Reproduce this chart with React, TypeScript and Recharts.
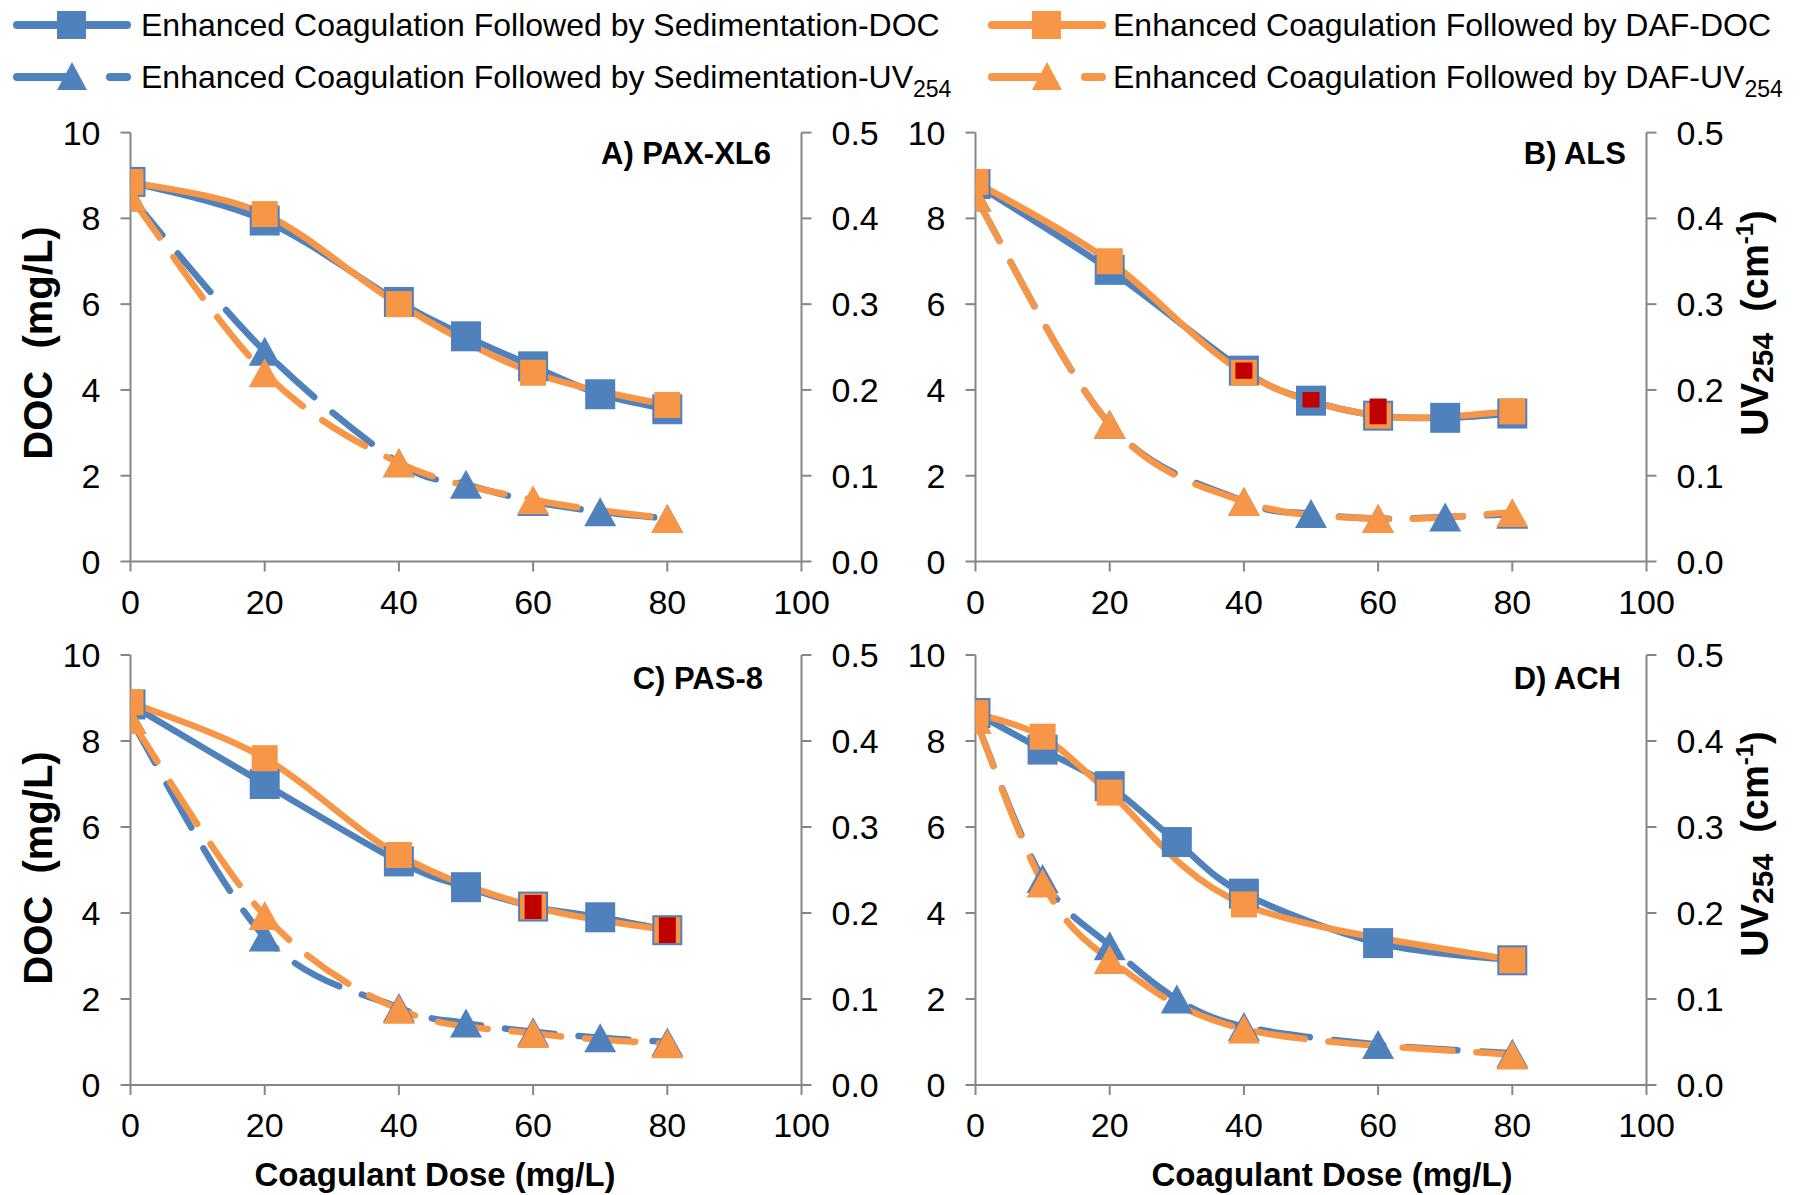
import React from 'react';
import { LineChart, Line, XAxis, YAxis } from 'recharts';

const FONT = '"Liberation Sans", Arial, sans-serif';
const BLUE = '#4F81BD';
const ORANGE = '#F79646';
const RED = '#C00000';
const AXIS = '#868686';

// ---------- Axis ticks ----------
const doseTicks = [0, 20, 40, 60, 80, 100];
const docTicks = [0, 2, 4, 6, 8, 10];
const uvTicks = [0, 0.1, 0.2, 0.3, 0.4, 0.5];

// ---------- Legend labels ----------
const legendSedDoc = 'Enhanced Coagulation Followed by Sedimentation-DOC';
const legendDafDoc = 'Enhanced Coagulation Followed by DAF-DOC';
const legendSedUvPrefix = 'Enhanced Coagulation Followed by Sedimentation-UV';
const legendDafUvPrefix = 'Enhanced Coagulation Followed by DAF-UV';
const panelTitles = ['A) PAX-XL6', 'B) ALS', 'C) PAS-8', 'D) ACH'];

// ---------- Panel A: PAX-XL6 ----------
const doseA_sed = [0, 20, 40, 50, 60, 70, 80];
const docA_sed = [8.85, 7.95, 6.05, 5.25, 4.55, 3.9, 3.55];
const uvA_sed = [0.425, 0.245, 0.115, 0.09, 0.07, 0.058, 0.05];
const doseA_daf = [0, 20, 40, 60, 80];
const docA_daf = [8.85, 8.1, 6.0, 4.4, 3.65];
const uvA_daf = [0.425, 0.22, 0.115, 0.072, 0.05];

// ---------- Panel B: ALS ----------
const doseB_sed = [0, 20, 40, 50, 60, 70, 80];
const docB_sed = [8.8, 6.8, 4.45, 3.75, 3.4, 3.35, 3.45];
const uvB_sed = [0.425, 0.16, 0.07, 0.056, 0.05, 0.052, 0.055];
const doseB_daf = [0, 20, 40, 60, 80];
const docB_daf = [8.85, 7.0, 4.4, 3.4, 3.5];
const uvB_daf = [0.425, 0.16, 0.07, 0.05, 0.057];
const redDoseB = [40, 50, 60];
const redValB = [4.45, 3.77, 3.5];
const redErrB = [0.19, 0.18, 0.3];

// ---------- Panel C: PAS-8 ----------
const doseC_sed = [0, 20, 40, 50, 60, 70, 80];
const docC_sed = [8.85, 7.0, 5.2, 4.6, 4.15, 3.9, 3.6];
const uvC_sed = [0.425, 0.172, 0.09, 0.072, 0.062, 0.055, 0.05];
const doseC_daf = [0, 20, 40, 60, 80];
const docC_daf = [8.9, 7.6, 5.35, 4.15, 3.6];
const uvC_daf = [0.425, 0.197, 0.088, 0.06, 0.048];
const redDoseC = [60, 80];
const redValC = [4.14, 3.6];
const redErrC = [0.28, 0.3];

// ---------- Panel D: ACH ----------
const doseD_sed = [0, 10, 20, 30, 40, 60, 80];
const docD_sed = [8.65, 7.8, 6.95, 5.65, 4.45, 3.3, 2.9];
const uvD_sed = [0.425, 0.24, 0.162, 0.1, 0.068, 0.047, 0.037];
const doseD_daf = [0, 10, 20, 40, 80];
const docD_daf = [8.65, 8.1, 6.8, 4.2, 2.9];
const uvD_daf = [0.425, 0.235, 0.146, 0.065, 0.035];

const zip = (xs: number[], ys: number[]) => xs.map((x, i) => ({ x, y: ys[i] }));
const zipErr = (xs: number[], ys: number[], es: number[]) =>
  xs.map((x, i) => ({ x, y: ys[i], e: es[i] }));

// Excel-like smoothing (uniform Catmull-Rom as cubic Bezier)
function excelSmooth(context: any) {
  let xs: number[] = [];
  let ys: number[] = [];
  return {
    areaStart() {},
    areaEnd() {},
    lineStart() {
      xs = [];
      ys = [];
    },
    lineEnd() {
      const n = xs.length;
      if (!n) return;
      context.moveTo(xs[0], ys[0]);
      if (n === 1) return;
      for (let i = 0; i < n - 1; i++) {
        const i0 = Math.max(i - 1, 0);
        const i3 = Math.min(i + 2, n - 1);
        const c1x = xs[i] + (xs[i + 1] - xs[i0]) / 6;
        const c1y = ys[i] + (ys[i + 1] - ys[i0]) / 6;
        const c2x = xs[i + 1] - (xs[i3] - xs[i]) / 6;
        const c2y = ys[i + 1] - (ys[i3] - ys[i]) / 6;
        context.bezierCurveTo(c1x, c1y, c2x, c2y, xs[i + 1], ys[i + 1]);
      }
    },
    point(x: number, y: number) {
      xs.push(+x);
      ys.push(+y);
    },
  };
}

const squareDot = (color: string, size: number) => (props: any) => {
  const { cx, cy, index } = props;
  if (cx == null || cy == null) return <g key={`s-${index}`} />;
  return (
    <rect key={`s-${index}`} x={cx - size / 2} y={cy - size / 2} width={size} height={size} fill={color} />
  );
};

const triDot = (color: string, w: number, h: number) => (props: any) => {
  const { cx, cy, index } = props;
  if (cx == null || cy == null) return <g key={`t-${index}`} />;
  const pts = `${cx},${cy - h / 2} ${cx - w / 2},${cy + h / 2} ${cx + w / 2},${cy + h / 2}`;
  return <polygon key={`t-${index}`} points={pts} fill={color} />;
};

// red vertical error mark, half-height = e (DOC units) converted with the axis pixel density
const redMark = (pxPerUnit: number) => (props: any) => {
  const { cx, cy, index, payload } = props;
  if (cx == null || cy == null) return <g key={`r-${index}`} />;
  const h = 2 * payload.e * pxPerUnit;
  return <rect key={`r-${index}`} x={cx - 8.5} y={cy - h / 2} width={17} height={h} fill={RED} />;
};

const LINE_W = 6.5;
const DASH = '50 24';

type PanelProps = {
  left: number;
  top: number;
  width: number;
  height: number;
  plotL: number;
  plotR: number;
  plotT: number;
  plotB: number;
  sed: { dose: number[]; doc: number[]; uv: number[] };
  daf: { dose: number[]; doc: number[]; uv: number[] };
  red?: { x: number; y: number; e: number }[];
};

function Panel({ left, top, width, height, plotL, plotR, plotT, plotB, sed, daf, red }: PanelProps) {
  const yw = 60;
  const xh = 60;
  const margin = {
    left: plotL - left - yw,
    right: left + width - plotR - yw,
    top: plotT - top,
    bottom: top + height - plotB - xh,
  };
  const pxPerDoc = (plotB - plotT) / 10;
  const tickStyle = { fill: '#000', fontSize: 34, fontFamily: FONT };
  const axisLine = { stroke: AXIS, strokeWidth: 2 };
  return (
    <div style={{ position: 'absolute', left, top, width, height }}>
      <LineChart width={width} height={height} margin={margin}>
        <XAxis
          type="number"
          dataKey="x"
          domain={[0, 100]}
          ticks={doseTicks}
          interval={0}
          allowDataOverflow
          height={xh}
          tickSize={10}
          tickMargin={18}
          axisLine={axisLine}
          tickLine={axisLine}
          tick={tickStyle}
        />
        <YAxis
          yAxisId="doc"
          type="number"
          domain={[0, 10]}
          ticks={docTicks}
          interval={0}
          allowDataOverflow
          width={yw}
          tickSize={10}
          tickMargin={20}
          axisLine={axisLine}
          tickLine={axisLine}
          tick={tickStyle}
        />
        <YAxis
          yAxisId="uv"
          orientation="right"
          type="number"
          domain={[0, 0.5]}
          ticks={uvTicks}
          interval={0}
          allowDataOverflow
          width={yw}
          tickSize={10}
          tickMargin={20}
          axisLine={axisLine}
          tickLine={axisLine}
          tick={tickStyle}
          tickFormatter={(v: number) => v.toFixed(1)}
        />
        <Line
          yAxisId="doc"
          data={zip(sed.dose, sed.doc)}
          dataKey="y"
          type={excelSmooth as any}
          stroke={BLUE}
          strokeWidth={LINE_W}
          strokeLinecap="round"
          dot={squareDot(BLUE, 30)}
          activeDot={false}
          isAnimationActive={false}
        />
        <Line
          yAxisId="uv"
          data={zip(sed.dose, sed.uv)}
          dataKey="y"
          type={excelSmooth as any}
          stroke={BLUE}
          strokeWidth={LINE_W}
          strokeDasharray={DASH}
          strokeLinecap="round"
          dot={triDot(BLUE, 32, 29)}
          activeDot={false}
          isAnimationActive={false}
        />
        <Line
          yAxisId="doc"
          data={zip(daf.dose, daf.doc)}
          dataKey="y"
          type={excelSmooth as any}
          stroke={ORANGE}
          strokeWidth={LINE_W}
          strokeLinecap="round"
          dot={squareDot(ORANGE, 26)}
          activeDot={false}
          isAnimationActive={false}
        />
        <Line
          yAxisId="uv"
          data={zip(daf.dose, daf.uv)}
          dataKey="y"
          type={excelSmooth as any}
          stroke={ORANGE}
          strokeWidth={LINE_W}
          strokeDasharray={DASH}
          strokeLinecap="round"
          dot={triDot(ORANGE, 32, 29)}
          activeDot={false}
          isAnimationActive={false}
        />
        {red ? (
          <Line
            yAxisId="doc"
            data={red}
            dataKey="y"
            stroke="none"
            strokeWidth={0}
            dot={redMark(pxPerDoc)}
            activeDot={false}
            isAnimationActive={false}
          />
        ) : null}
      </LineChart>
    </div>
  );
}

function LegendIcon({ x, y, color, dashed }: { x: number; y: number; color: string; dashed: boolean }) {
  return (
    <g>
      <line
        x1={x + 4}
        y1={y}
        x2={x + 114}
        y2={y}
        stroke={color}
        strokeWidth={8}
        strokeLinecap="round"
        strokeDasharray={dashed ? '52 41' : undefined}
      />
      {dashed ? (
        <polygon points={`${x + 59},${y - 15} ${x + 44},${y + 13} ${x + 74},${y + 13}`} fill={color} />
      ) : (
        <rect x={x + 44} y={y - 14} width={29} height={28} fill={color} />
      )}
    </g>
  );
}

function Overlay() {
  const bold = { fontFamily: FONT, fontWeight: 700 as const, fill: '#000' };
  const leg = { fontFamily: FONT, fontSize: 32, fill: '#000' };
  return (
    <svg
      width={1808}
      height={1195}
      style={{ position: 'absolute', left: 0, top: 0, pointerEvents: 'none' }}
    >
      {/* Legend */}
      <LegendIcon x={13} y={25} color={BLUE} dashed={false} />
      <text x={141} y={36} {...leg}>{legendSedDoc}</text>
      <LegendIcon x={988} y={25} color={ORANGE} dashed={false} />
      <text x={1113} y={36} {...leg}>{legendDafDoc}</text>
      <LegendIcon x={13} y={77} color={BLUE} dashed />
      <text x={141} y={88} {...leg}>
        {legendSedUvPrefix}
        <tspan fontSize={23} dy={9}>254</tspan>
      </text>
      <LegendIcon x={988} y={77} color={ORANGE} dashed />
      <text x={1113} y={88} {...leg}>
        {legendDafUvPrefix}
        <tspan fontSize={23} dy={9}>254</tspan>
      </text>

      {/* Panel titles */}
      <text x={771} y={164} textAnchor="end" fontSize={31} {...bold}>{panelTitles[0]}</text>
      <text x={1626} y={164} textAnchor="end" fontSize={31} {...bold}>{panelTitles[1]}</text>
      <text x={763} y={689} textAnchor="end" fontSize={31} {...bold}>{panelTitles[2]}</text>
      <text x={1621} y={689} textAnchor="end" fontSize={31} {...bold}>{panelTitles[3]}</text>

      {/* Left axis titles */}
      {[343, 868].map((cy) => (
        <text key={`doc-${cy}`} transform={`translate(52, ${cy}) rotate(-90)`} textAnchor="middle" fontSize={40} {...bold}>
          {'DOC\u00A0 (mg/L)'}
        </text>
      ))}

      {/* Right axis titles */}
      {[323, 844].map((cy) => (
        <text key={`uv-${cy}`} transform={`translate(1768, ${cy}) rotate(-90)`} textAnchor="middle" fontSize={38} {...bold}>
          UV
          <tspan fontSize={30} dy={5}>254</tspan>
          <tspan fontSize={38} dy={-5}>{'\u00A0 (cm'}</tspan>
          <tspan fontSize={24} dy={-15}>-1</tspan>
          <tspan fontSize={38} dy={15}>)</tspan>
        </text>
      ))}

      {/* X axis titles */}
      <text x={435} y={1186} textAnchor="middle" fontSize={33} {...bold}>Coagulant Dose (mg/L)</text>
      <text x={1332} y={1186} textAnchor="middle" fontSize={33} {...bold}>Coagulant Dose (mg/L)</text>
    </svg>
  );
}

export default function App() {
  return (
    <div style={{ position: 'absolute', left: 0, top: 0, width: 1808, height: 1195, background: '#fff', overflow: 'hidden' }}>
      <Panel
        left={0}
        top={100}
        width={904}
        height={560}
        plotL={130.5}
        plotR={801.5}
        plotT={132.6}
        plotB={561.5}
        sed={{ dose: doseA_sed, doc: docA_sed, uv: uvA_sed }}
        daf={{ dose: doseA_daf, doc: docA_daf, uv: uvA_daf }}
      />
      <Panel
        left={904}
        top={100}
        width={904}
        height={560}
        plotL={975.5}
        plotR={1646.5}
        plotT={132.6}
        plotB={561.5}
        sed={{ dose: doseB_sed, doc: docB_sed, uv: uvB_sed }}
        daf={{ dose: doseB_daf, doc: docB_daf, uv: uvB_daf }}
        red={zipErr(redDoseB, redValB, redErrB)}
      />
      <Panel
        left={0}
        top={620}
        width={904}
        height={540}
        plotL={130.5}
        plotR={801.5}
        plotT={655}
        plotB={1085}
        sed={{ dose: doseC_sed, doc: docC_sed, uv: uvC_sed }}
        daf={{ dose: doseC_daf, doc: docC_daf, uv: uvC_daf }}
        red={zipErr(redDoseC, redValC, redErrC)}
      />
      <Panel
        left={904}
        top={620}
        width={904}
        height={540}
        plotL={975.5}
        plotR={1646.5}
        plotT={655}
        plotB={1085}
        sed={{ dose: doseD_sed, doc: docD_sed, uv: uvD_sed }}
        daf={{ dose: doseD_daf, doc: docD_daf, uv: uvD_daf }}
      />
      <Overlay />
    </div>
  );
}
